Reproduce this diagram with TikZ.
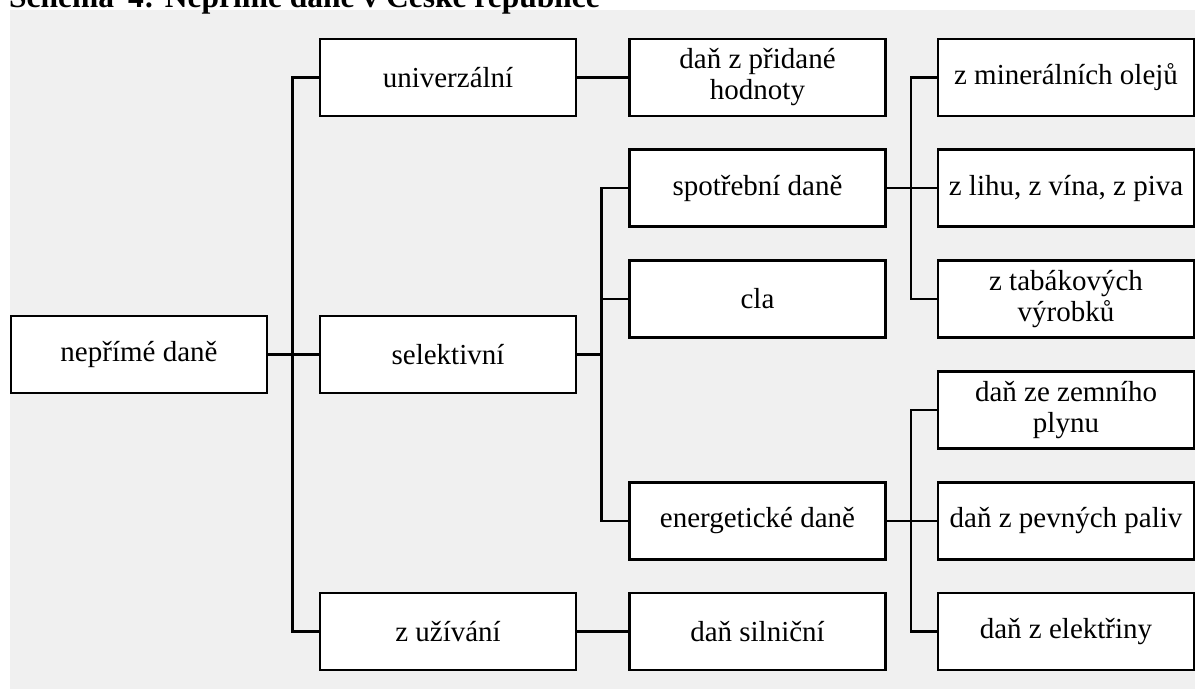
\documentclass[tikz,border=0pt]{standalone}
\usepackage{fontspec}
\setmainfont{Liberation Serif}
\definecolor{panel}{HTML}{F0F0F0}
\begin{document}
\begin{tikzpicture}[x=1pt,y=-1pt,
  box/.style={draw=black, fill=white, line width=2.6pt, minimum width=256pt,
    minimum height=77pt, inner sep=0pt, outer sep=0pt, align=center,
    font=\fontsize{29}{31}\selectfont},
  link/.style={draw=black, line width=2.6pt}]
\useasboundingbox (0,0) rectangle (1195,689);
\clip (0,0) rectangle (1195,689);
% panel behind the chart
\fill[panel] (10,10) rectangle (1200,689);
% heading above the panel
\node[anchor=base west, inner sep=0pt, font=\fontsize{31.5}{32}\bfseries\selectfont] (title) at (9,7)
  {Schéma\hspace{6pt} 4: Nepřímé daně v České republice};

% level 0
\node[box] (root) at (139,354.5) {nepřímé daně};
% level 1
\node[box] (uni) at (448,77.5) {univerzální};
\node[box] (sel) at (448,354.5) {selektivní};
\node[box] (uzi) at (448,631.5) {z užívání};
% level 2
\node[box] (dph) at (757.5,77.5) {daň z přidané\\hodnoty};
\node[box] (spo) at (757.5,188) {spotřební daně};
\node[box] (cla) at (757.5,299) {cla};
\node[box] (ene) at (757.5,521) {energetické daně};
\node[box] (sil) at (757.5,631.5) {daň silniční};
% level 3
\node[box] (min) at (1066,77.5) {z minerálních olejů};
\node[box] (lih) at (1066,188) {z lihu, z vína, z piva};
\node[box] (tab) at (1066,299) {z tabákových\\výrobků};
\node[box] (zem) at (1066,410) {daň ze zemního\\plynu};
\node[box] (pev) at (1066,521) {daň z pevných paliv};
\node[box] (ele) at (1066,631.5) {daň z elektřiny};

% connectors
\foreach \p/\c in {root/uni, root/sel, root/uzi,
                   uni/dph,
                   sel/spo, sel/cla, sel/ene,
                   uzi/sil,
                   spo/min, spo/lih, spo/tab,
                   ene/zem, ene/pev, ene/ele}
  \draw[link] (\p.east) -- ++(25.5,0) |- (\c.west);
\end{tikzpicture}
\end{document}
